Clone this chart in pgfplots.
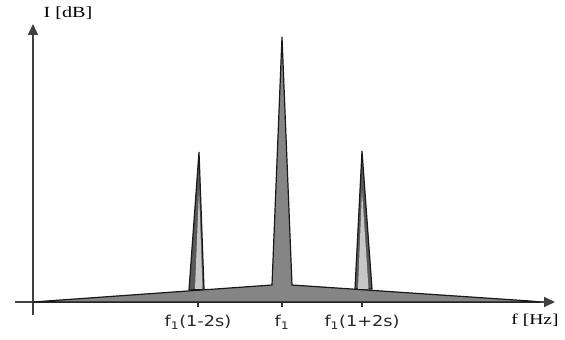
\documentclass[border=0pt]{standalone}
\usepackage{fontspec}
\usepackage{pgfplots}
\pgfplotsset{compat=1.18}
\usetikzlibrary{arrows.meta}
\newfontfamily\labfont[FakeStretch=1.3]{Liberation Serif}
\newfontfamily\tickfont[FakeStretch=1.18]{DejaVu Sans}
\begin{document}
\begin{tikzpicture}
\begin{axis}[
 scale only axis, width=540pt, height=291pt,
 xmin=-18,xmax=522,ymin=-13,ymax=278,
 axis lines=middle,
 axis line style={line width=1.7pt, color=black!75, -{Triangle[length=11pt,width=10pt]}},
 xtick={165,249,329},
 xticklabels={f\textsubscript{1}(1-2s), f\textsubscript{1}, f\textsubscript{1}(1+2s)},
 ytick=\empty,
 tick align=center, major tick length=10pt,
 tick style={line width=1.6pt, black!80},
 xticklabel style={font=\tickfont\fontsize{15}{17}\selectfont, text=black!85, anchor=north, yshift=-5pt},
 xlabel={f [Hz]}, ylabel={I [dB]},
 xlabel style={at={(rel axis cs:0.963,-0.017)}, anchor=center, font=\labfont\fontsize{15}{17}\selectfont},
 ylabel style={at={(rel axis cs:0.098,1.038)}, anchor=center, rotate=0, font=\labfont\fontsize{15.5}{17}\selectfont},
 clip=false,
]
\addplot[fill=black!48, draw=black!90, line width=1.2pt] coordinates {(0,0)(239,17)(249,265)(259,17)(497,1)(507,0)} \closedcycle;
\addplot[fill=black!65, draw=black!90, line width=1.2pt] coordinates {(156,12)(166,150)(171,13)(156,12)};
\addplot[fill=black!22, draw=none] coordinates {(162,13)(166,112)(169.5,13)(162,13)};
\addplot[fill=black!65, draw=black!90, line width=1.2pt] coordinates {(322,13)(329,151)(339,13)(322,13)};
\addplot[fill=black!22, draw=none] coordinates {(325,13)(329,112)(335.5,13)(325,13)};
\coordinate (BL) at (axis cs:-33,-38);
\coordinate (TR) at (axis cs:532,302);
\end{axis}
\pgfresetboundingbox
\path[use as bounding box] (BL) rectangle (TR);
\end{tikzpicture}
\end{document}
